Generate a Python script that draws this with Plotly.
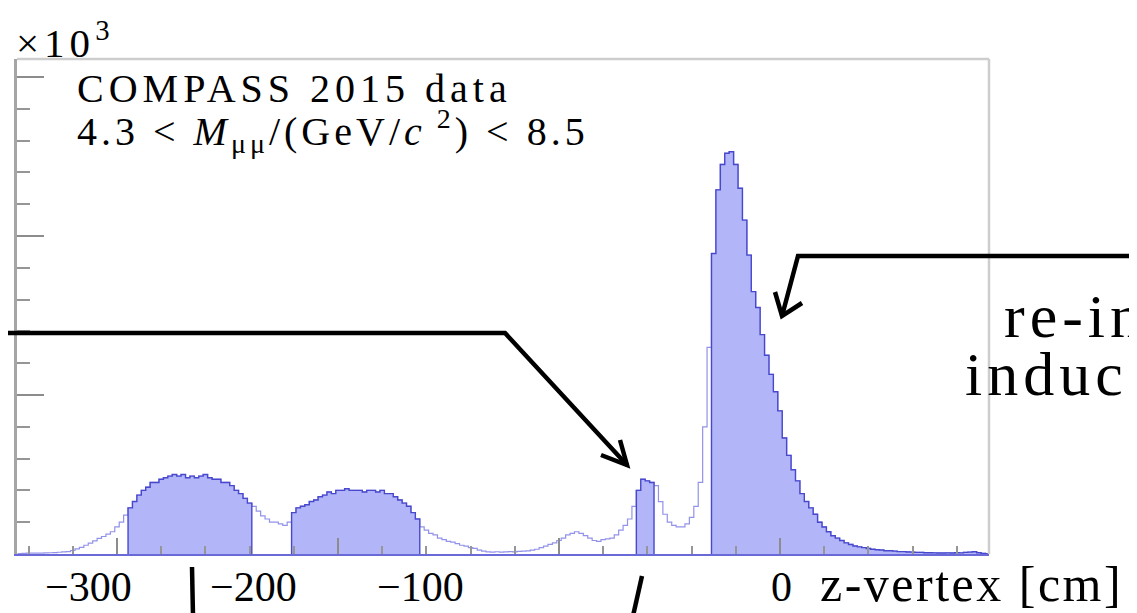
import numpy as np
import plotly.graph_objects as go

# ---------------- data (counts in units of 10^3 per 2 cm bin) ----------------
z_lo = -345.0          # lower edge of first bin [cm]
bin_w = 2.0            # bin width [cm]

counts_upstream = [0.003, 0.004, 0.005, 0.005, 0.006, 0.006, 0.007, 0.008, 0.009, 0.011,
                   0.013, 0.015, 0.022, 0.032, 0.042, 0.055, 0.068, 0.082, 0.098, 0.11,
                   0.125, 0.14, 0.17, 0.20, 0.245]
counts_cell1 = [0.29, 0.33, 0.37, 0.40, 0.42, 0.45, 0.45, 0.47, 0.48, 0.49, 0.50, 0.49, 0.50, 0.48,
                0.49, 0.48, 0.49, 0.50, 0.48, 0.47, 0.47, 0.45, 0.45, 0.43, 0.40, 0.38, 0.35, 0.32]
counts_gap = [0.30, 0.27, 0.24, 0.22, 0.20, 0.20, 0.19, 0.18, 0.20]
counts_cell2 = [0.26, 0.29, 0.30, 0.31, 0.33, 0.34, 0.36, 0.37, 0.39, 0.38, 0.40, 0.40, 0.41, 0.40,
                0.40, 0.40, 0.39, 0.40, 0.40, 0.39, 0.40, 0.38, 0.38, 0.36, 0.34, 0.32, 0.30, 0.26, 0.22]
counts_mid = [0.17, 0.15, 0.13, 0.12, 0.10, 0.09, 0.08, 0.075, 0.065, 0.055, 0.05, 0.04, 0.035,
              0.025, 0.018, 0.013, 0.012, 0.014, 0.012, 0.013, 0.015, 0.013, 0.016, 0.018, 0.02,
              0.025, 0.03, 0.04, 0.05, 0.06, 0.07, 0.085, 0.10, 0.12, 0.13, 0.14, 0.13, 0.115,
              0.10, 0.085, 0.08, 0.09, 0.095, 0.10, 0.12, 0.15, 0.18, 0.22, 0.30]
counts_al = [0.40, 0.47, 0.46, 0.45]
counts_pre = [0.43, 0.33, 0.25, 0.20, 0.18, 0.17, 0.17, 0.19, 0.23, 0.30, 0.45, 0.80, 1.30]
counts_absorber = [1.89, 2.29, 2.45, 2.52, 2.53, 2.45, 2.30, 2.10, 1.88, 1.65, 1.55, 1.38, 1.25,
                   1.13, 1.02, 0.90, 0.73, 0.62, 0.53, 0.46, 0.38, 0.33, 0.29, 0.25, 0.20, 0.17,
                   0.14, 0.115, 0.10, 0.085, 0.07, 0.06, 0.05, 0.045, 0.04, 0.035, 0.03, 0.027,
                   0.025, 0.02, 0.02, 0.018, 0.015, 0.015, 0.013, 0.012, 0.010, 0.010, 0.008,
                   0.008, 0.007, 0.006, 0.006, 0.007, 0.006, 0.008, 0.007, 0.010, 0.012, 0.014,
                   0.008, 0.004, 0.002]

# selected z ranges (shaded) [cm]
selected_ranges = [(-295, -239), (-221, -163), (-65, -57), (-31, 95)]

x_ticks_text = ["\u2212300", "\u2212200", "\u2212100", "0"]

counts = np.array(counts_upstream + counts_cell1 + counts_gap + counts_cell2 +
                  counts_mid + counts_al + counts_pre + counts_absorber)
edges = z_lo + bin_w * np.arange(len(counts) + 1)

# ---------------- styling ----------------
FILL = "rgb(178,181,248)"
LINE_DARK = "rgb(72,72,205)"
LINE_LIGHT = "rgba(110,110,225,0.75)"
SERIF = "Liberation Serif"

OFF = 8                          # page body margin of the html page
W, H = 1137 - OFF, 613 - OFF     # figure size
L, R, T, B = 17, 989, 59, 554    # plot area in window pixels


def P(px, py):
    return (px - L) / (R - L), (B - py) / (B - T)


fig = go.Figure()

# full histogram outline (light)
fig.add_trace(go.Scatter(
    x=list(edges[:-1]) + [edges[-1]], y=list(counts) + [counts[-1]],
    mode="lines", line=dict(color=LINE_LIGHT, width=1.2, shape="hv"),
    hoverinfo="skip"))

# shaded selected regions
for lo, hi in selected_ranges:
    i0 = int(round((lo - z_lo) / bin_w))
    i1 = int(round((hi - z_lo) / bin_w))
    xs = [edges[i0]] + list(edges[i0:i1]) + [edges[i1], edges[i1]]
    ys = [0] + list(counts[i0:i1]) + [counts[i1 - 1], 0]
    fig.add_trace(go.Scatter(
        x=xs, y=ys, mode="lines", fill="tozeroy", fillcolor=FILL,
        line=dict(color=LINE_DARK, width=1.4, shape="hv"), hoverinfo="skip"))

x_range = [(L - 780) / 2.21, (R - 780) / 2.21]
y_range = [0, (B - T) / 159.0]

fig.update_xaxes(range=x_range, showgrid=False, zeroline=False,
                 showline=True, linecolor="rgb(105,105,215)", linewidth=2,
                 ticks="inside", ticklen=16, tickwidth=1.5, tickcolor="rgb(140,140,140)",
                 tick0=0, dtick=100, showticklabels=False,
                 minor=dict(ticks="inside", ticklen=8, tickwidth=1.5,
                            tickcolor="rgb(150,150,150)", dtick=20, tick0=0))
fig.update_yaxes(range=y_range, showgrid=False, zeroline=False,
                 showline=True, linecolor="rgb(165,165,165)", linewidth=3,
                 ticks="inside", ticklen=27, tickwidth=1.5, tickcolor="rgb(140,140,140)",
                 tick0=0, dtick=1, showticklabels=False,
                 minor=dict(ticks="inside", ticklen=13, tickwidth=1.5,
                            tickcolor="rgb(150,150,150)", dtick=0.2, tick0=0))

shapes = []
# top and right frame
shapes.append(dict(type="line", xref="paper", yref="paper", x0=0, y0=1, x1=1, y1=1,
                   line=dict(color="rgb(205,205,205)", width=2.5)))
shapes.append(dict(type="line", xref="paper", yref="paper", x0=1, y0=0, x1=1, y1=1,
                   line=dict(color="rgb(205,205,205)", width=2.5)))


def path(points):
    s = ""
    for k, (px, py) in enumerate(points):
        x, y = P(px, py)
        s += ("M" if k == 0 else " L") + f" {x:.5f},{y:.5f}"
    return s


ARROW = dict(color="black", width=4.5)
# arrow to the Al target peak
shapes.append(dict(type="path", xref="paper", yref="paper",
                   path=path([(-5, 333), (505, 333), (627, 465)]), line=ARROW))
shapes.append(dict(type="path", xref="paper", yref="paper",
                   path=path([(620, 440), (627, 465), (601, 455)]), line=ARROW))
# arrow to the absorber peak
shapes.append(dict(type="path", xref="paper", yref="paper",
                   path=path([(1140, 256), (798, 256), (782, 316)]), line=ARROW))
shapes.append(dict(type="path", xref="paper", yref="paper",
                   path=path([(775, 292), (782, 316), (802, 303)]), line=ARROW))
# arrow stubs entering from below
shapes.append(dict(type="path", xref="paper", yref="paper",
                   path=path([(192, 567), (193, 616)]), line=ARROW))
shapes.append(dict(type="path", xref="paper", yref="paper",
                   path=path([(642, 576), (633, 616)]), line=ARROW))

annotations = []


def ann(text, px, py, size, xanchor="left", yanchor="middle", ls=0):
    x, y = P(px, py)
    if ls:
        text = f'<span style="letter-spacing:{ls}px">{text}</span>'
    annotations.append(dict(text=text, x=x, y=y, xref="paper", yref="paper",
                            xanchor=xanchor, yanchor=yanchor, showarrow=False,
                            font=dict(family=SERIF, size=size, color="black")))


ann("\u00d710<sup>3</sup>", 14, 40, 41, ls=5)
ann("COMPASS 2015 data", 75, 88, 40, ls=5)
ann("4.3 &lt; <i>M</i><sub>\u03bc\u03bc</sub>/(GeV/<i>c</i><sup> 2</sup>) &lt; 8.5", 75, 131, 40, ls=4)

for txt, cx in zip(x_ticks_text, [88, 253, 420, 781]):
    ann(txt, cx, 587, 42, xanchor="center")
ann("z-vertex [cm]", 818, 584, 50, ls=2.5)
ann("re-interaction", 1002, 316, 62, ls=5)
ann("induced", 963, 374, 62, ls=5)

fig.update_layout(width=W, height=H, autosize=False,
                  margin=dict(l=L - OFF, r=W - (R - OFF), t=T - OFF, b=H - (B - OFF), pad=0),
                  paper_bgcolor="white", plot_bgcolor="white",
                  showlegend=False, shapes=shapes, annotations=annotations)

fig.write_html("out.html", config={"displayModeBar": False})
